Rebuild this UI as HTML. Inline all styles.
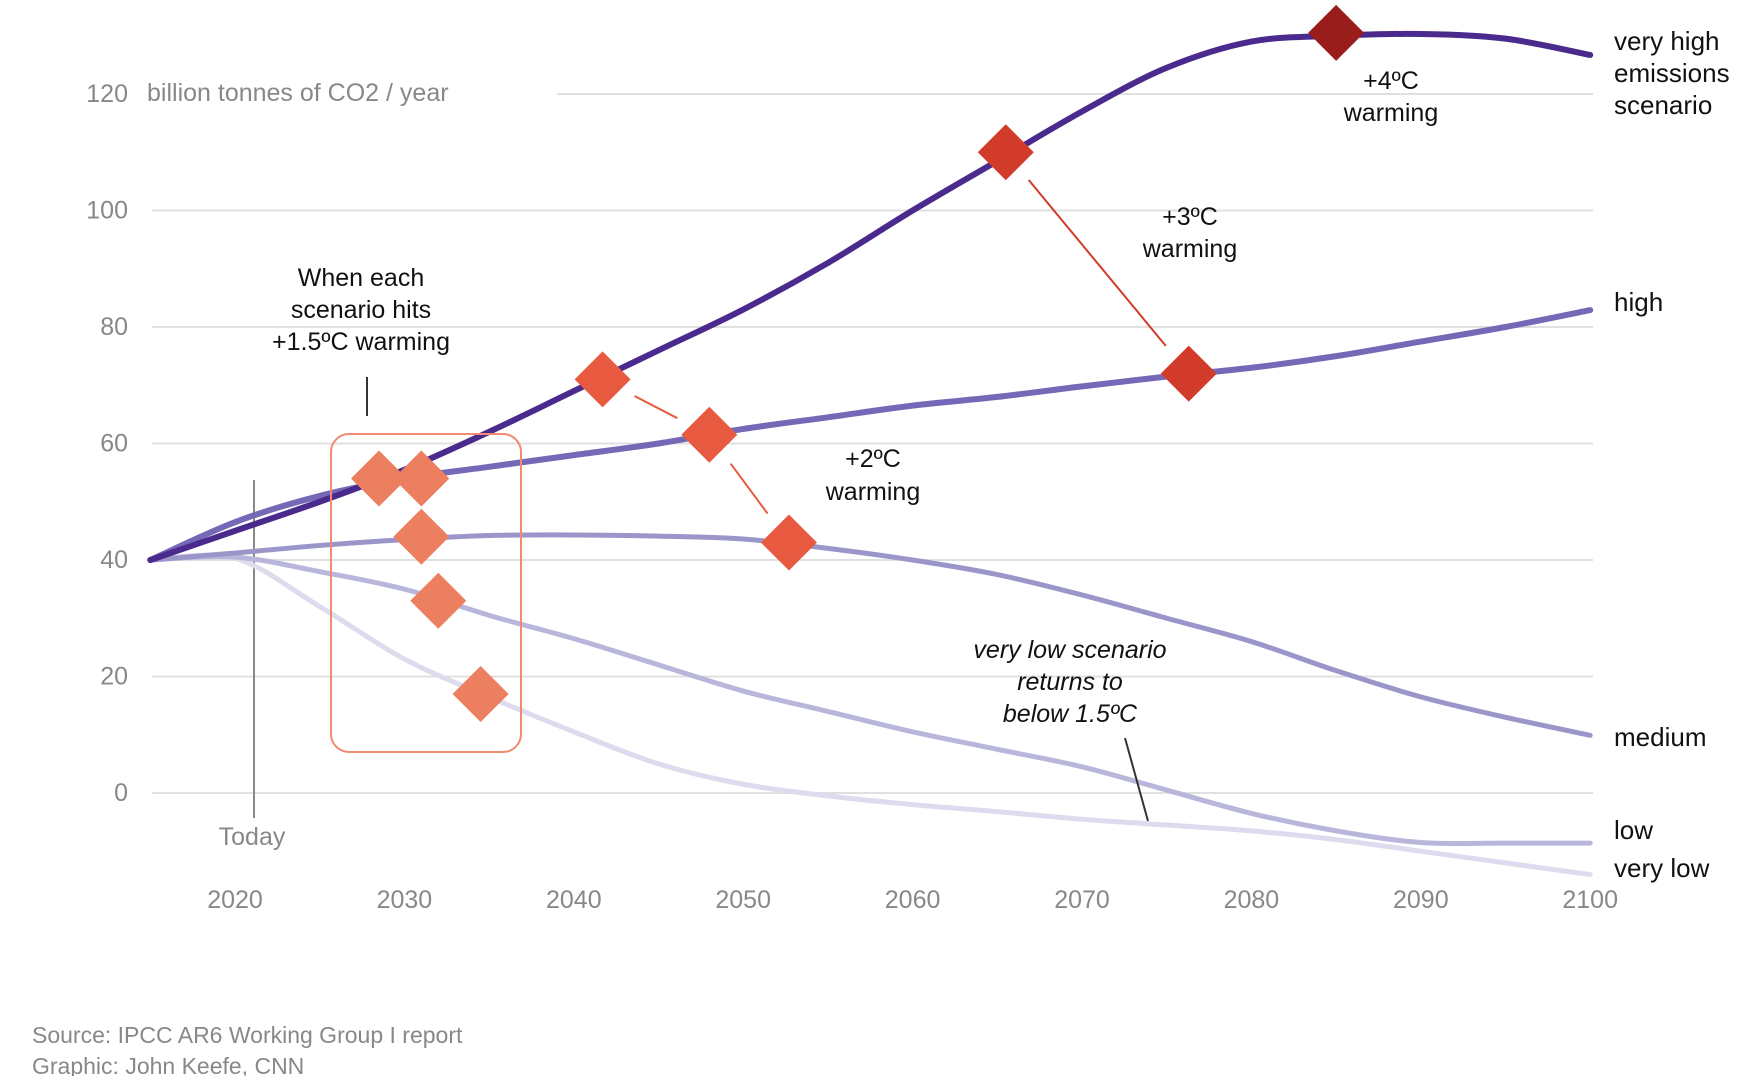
<!DOCTYPE html>
<html><head><meta charset="utf-8">
<style>
html,body{margin:0;padding:0;background:#fff;}
svg{display:block;font-family:"Liberation Sans",sans-serif;}
</style></head>
<body>
<svg id="chart" width="1738" height="1076" viewBox="0 0 1738 1076">
<g id="grid"></g>
<g id="yticks"></g>
<g id="xticks"></g>
<text x="147" y="101" font-size="25" fill="#888">billion tonnes of CO2 / year</text>
<line x1="254" y1="480" x2="254" y2="818" stroke="#888" stroke-width="2"/>
<text x="252" y="845" font-size="25" fill="#888" text-anchor="middle">Today</text>
<g id="series"></g>
<rect x="331" y="434" width="190" height="318" rx="18" fill="none" stroke="#f08a70" stroke-width="2"/>
<line x1="367" y1="377" x2="367" y2="416" stroke="#333" stroke-width="2"/>
<g id="connectors"></g>
<g id="markers"></g>
<g font-size="25" fill="#111" text-anchor="middle">
<text x="361" y="286">When each</text><text x="361" y="318">scenario hits</text><text x="361" y="350">+1.5ºC warming</text></g>
<g font-size="25" fill="#111" text-anchor="middle">
<text x="873" y="467">+2ºC</text><text x="873" y="500">warming</text></g>
<g font-size="25" fill="#111" text-anchor="middle">
<text x="1190" y="225">+3ºC</text><text x="1190" y="257">warming</text></g>
<g font-size="25" fill="#111" text-anchor="middle">
<text x="1391" y="89">+4ºC</text><text x="1391" y="121">warming</text></g>
<g font-size="25" fill="#111" text-anchor="middle" font-style="italic">
<text x="1070" y="658">very low scenario</text><text x="1070" y="690">returns to</text><text x="1070" y="722">below 1.5ºC</text></g>
<line x1="1125" y1="738" x2="1148" y2="821" stroke="#333" stroke-width="2"/>
<g font-size="26" fill="#111">
<text x="1614" y="50">very high</text><text x="1614" y="82">emissions</text><text x="1614" y="114">scenario</text>
<text x="1614" y="311">high</text><text x="1614" y="746">medium</text><text x="1614" y="839">low</text><text x="1614" y="877">very low</text></g>
<g font-size="23" fill="#888">
<text x="32" y="1043">Source: IPCC AR6 Working Group I report</text><text x="32" y="1074">Graphic: John Keefe, CNN</text></g>
</svg>
<script>
const yTicks=[0,20,40,60,80,100,120];
const xTicks=[2020,2030,2040,2050,2060,2070,2080,2090,2100];
const years=[2015,2020,2025,2030,2035,2040,2045,2050,2055,2060,2065,2070,2075,2080,2085,2090,2095,2100];
const veryHigh=[40,45,50,55.5,62,69,76,83,91,100,108.5,117,124.5,129,130,130.3,129.5,126.7];
const high=[40,46.5,51,54,56,58,60,62.5,64.5,66.5,68,69.8,71.5,73,75,77.5,80,82.9];
const medium=[40,41.2,42.5,43.5,44.2,44.3,44.1,43.6,42,40,37.5,34,30,26,21,16.5,13,9.9];
const low=[40,40.5,38,35,30.5,26.5,22,17.5,14,10.5,7.5,4.5,0.5,-3.5,-6.5,-8.5,-8.6,-8.6];
const veryLow=[40,40.3,32,23,16.5,10.5,5,1.5,-0.5,-2,-3.2,-4.5,-5.5,-6.5,-8,-10,-12,-14];
const seriesNames=['very-low','low','medium','high','very-high'];
const seriesColors=['#dddbee','#b9b6db','#9b96c9','#7569b7','#4a2a8d'];
const seriesWidths=[5,5,5,6,6];
const seriesData=[veryLow,low,medium,high,veryHigh];
const markerYears=[2028.5,2031,2031,2032,2034.5,2041.7,2048,2052.7,2065.5,2076.3,2085];
const markerValues=[54,54,44,33,17,71,61.5,43,110,72,130.5];
const markerLevels=['1.5','1.5','1.5','1.5','1.5','2','2','2','3','3','4'];
const levelColors={'1.5':'#ec7f60','2':'#e85a3f','3':'#d23a29','4':'#981d1b'};
const NS='http://www.w3.org/2000/svg';
const X=y=>235+(y-2020)*169.4/10;
const Y=v=>793-v*116.5/20;
function mk(tag,attrs,parent){const e=document.createElementNS(NS,tag);for(const k in attrs)e.setAttribute(k,attrs[k]);parent.appendChild(e);return e;}
const grid=document.getElementById('grid'),yt=document.getElementById('yticks'),xt=document.getElementById('xticks');
yTicks.forEach(t=>{
  const l=mk('line',{x1:t===120?557:152,x2:1593,y1:Y(t),y2:Y(t),stroke:'#e0e0e0','stroke-width':2},grid);
  
  
  const tx=mk('text',{x:128,y:Y(t)+8,'font-size':25,fill:'#888','text-anchor':'end'},yt);
  tx.textContent=t;
  
  
});
xTicks.forEach(t=>{
  const tx=mk('text',{x:X(t),y:908,'font-size':25,fill:'#888','text-anchor':'middle'},xt);
  tx.textContent=t;
  
  
});
function path(pts){let d='M'+pts[0][0]+','+pts[0][1];
  for(let i=0;i<pts.length-1;i++){const p0=pts[i-1]||pts[i],p1=pts[i],p2=pts[i+1],p3=pts[i+2]||p2;
    d+=' C'+(p1[0]+(p2[0]-p0[0])/6)+','+(p1[1]+(p2[1]-p0[1])/6)+' '+(p2[0]-(p3[0]-p1[0])/6)+','+(p2[1]-(p3[1]-p1[1])/6)+' '+p2[0]+','+p2[1];}
  return d;}
const sg=document.getElementById('series');
seriesData.forEach((arr,i)=>{
  const pts=years.map((yr,j)=>[X(yr),Y(arr[j])]);
  const p=mk('path',{d:path(pts),fill:'none',stroke:seriesColors[i],'stroke-width':seriesWidths[i],'stroke-linecap':'round'},sg);
  
  
});
const cg=document.getElementById('connectors');
[[5,6],[6,7],[8,9]].forEach(([a,b])=>{
  const x1=X(markerYears[a]),y1=Y(markerValues[a]),x2=X(markerYears[b]),y2=Y(markerValues[b]);
  const dx=x2-x1,dy=y2-y1,len=Math.hypot(dx,dy),g=36;
  const l=mk('line',{x1:x1+dx/len*g,y1:y1+dy/len*g,x2:x2-dx/len*g,y2:y2-dy/len*g,stroke:levelColors[markerLevels[a]],'stroke-width':2},cg);
  
  
});
const mg=document.getElementById('markers');
markerYears.forEach((yr,i)=>{
  const cx=X(yr),cy=Y(markerValues[i]),r=28;
  const p=mk('polygon',{points:`${cx},${cy-r} ${cx+r},${cy} ${cx},${cy+r} ${cx-r},${cy}`,fill:levelColors[markerLevels[i]]},mg);
  
  
});
</script>
</body></html>
